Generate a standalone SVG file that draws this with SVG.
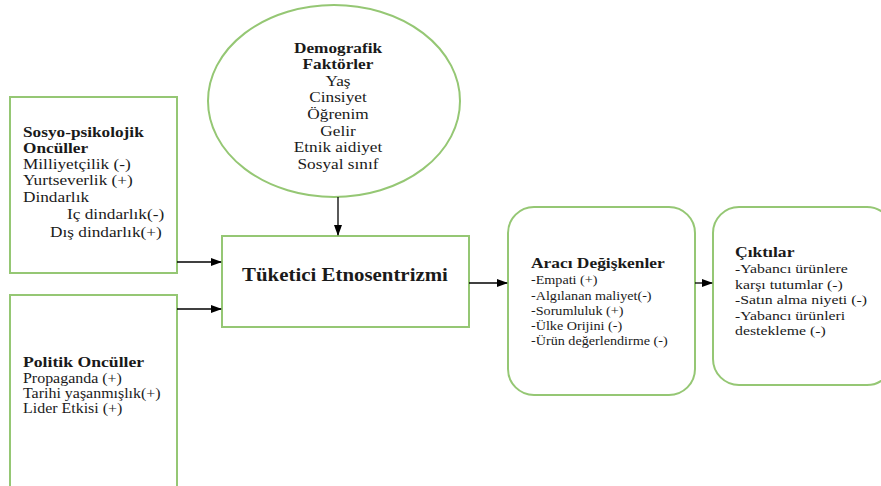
<svg xmlns="http://www.w3.org/2000/svg" width="881" height="486" viewBox="0 0 881 486">
<defs>
<style>
.box{fill:#fff;stroke:#95c774;stroke-width:2}
.b{font-weight:bold}
.edge{stroke:#000;stroke-width:1.3;fill:none;marker-end:url(#ah)}
</style>
<marker id="ah" markerWidth="11" markerHeight="8" refX="10" refY="4" orient="auto" markerUnits="userSpaceOnUse">
<path d="M0,0 L11,4 L0,8 Z" fill="#000"/>
</marker>
</defs>
<rect width="881" height="486" fill="#fff"/>
<g font-family="'Liberation Serif', 'Times New Roman', 'DejaVu Serif', serif" fill="#1a1a1a">
<g id="sosyo">
<rect class="box" x="10" y="97" width="167" height="176"/>
<text font-size="15" transform="translate(23 0) scale(1.15 1) translate(-23 0)"><tspan class="b" x="23" y="137">Sosyo-psikolojik</tspan><tspan class="b" x="23" y="153">Oncüller</tspan><tspan x="23" y="169">Milliyetçilik (-)</tspan><tspan x="23" y="185">Yurtseverlik (+)</tspan><tspan x="23" y="202">Dindarlık</tspan><tspan x="61.3" y="219">Iç dindarlık(-)</tspan><tspan x="46.5" y="237">Dış dindarlık(+)</tspan></text>
</g>
<g id="politik">
<rect class="box" x="10" y="295" width="167" height="200"/>
<text font-size="14" transform="translate(23 0) scale(1.14 1) translate(-23 0)"><tspan class="b" font-size="15.5" x="23" y="367">Politik Oncüller</tspan><tspan x="23" y="383">Propaganda (+)</tspan><tspan x="23" y="398">Tarihi yaşanmışlık(+)</tspan><tspan x="23" y="413">Lider Etkisi (+)</tspan></text>
</g>
<g id="demografik">
<ellipse class="box" cx="334" cy="101" rx="126" ry="96"/>
<text font-size="15" text-anchor="middle" transform="translate(338 0) scale(1.15 1) translate(-338 0)"><tspan class="b" x="338" y="53">Demografik</tspan><tspan class="b" x="338" y="69">Faktörler</tspan><tspan x="338" y="86">Yaş</tspan><tspan x="338" y="102">Cinsiyet</tspan><tspan x="338" y="119">Öğrenim</tspan><tspan x="338" y="136">Gelir</tspan><tspan x="338" y="152">Etnik aidiyet</tspan><tspan x="338" y="169">Sosyal sınıf</tspan></text>
</g>
<g id="tuketici">
<rect class="box" x="222" y="236" width="247" height="91"/>
<text class="b" font-size="18" text-anchor="middle" x="345" y="281" transform="translate(345 0) scale(1.16 1) translate(-345 0)">Tüketici Etnosentrizmi</text>
</g>
<g id="araci">
<rect class="box" x="508" y="207" width="187" height="188" rx="26" ry="26"/>
<text font-size="12.2" transform="translate(531 0) scale(1.16 1) translate(-531 0)"><tspan class="b" font-size="15" x="531" y="268">Aracı Değişkenler</tspan><tspan x="531" y="284">-Empati (+)</tspan><tspan x="531" y="300">-Algılanan maliyet(-)</tspan><tspan x="531" y="315">-Sorumluluk (+)</tspan><tspan x="531" y="330">-Ülke Orijini (-)</tspan><tspan x="531" y="345">-Ürün değerlendirme (-)</tspan></text>
</g>
<g id="ciktilar">
<rect class="box" x="713" y="207" width="180" height="178" rx="26" ry="26"/>
<text font-size="13.5" transform="translate(735 0) scale(1.17 1) translate(-735 0)"><tspan class="b" font-size="15" x="735" y="257">Çıktılar</tspan><tspan x="735" y="273">-Yabancı ürünlere</tspan><tspan x="735" y="289">karşı tutumlar (-)</tspan><tspan x="735" y="304">-Satın alma niyeti (-)</tspan><tspan x="735" y="320">-Yabancı ürünleri</tspan><tspan x="735" y="335">destekleme (-)</tspan></text>
</g>
</g>
<g id="connectors">
<line class="edge" x1="177" y1="262" x2="221" y2="262"/>
<line class="edge" x1="177" y1="309" x2="221" y2="309"/>
<line class="edge" x1="338" y1="197" x2="338" y2="235"/>
<line class="edge" x1="469" y1="283" x2="507" y2="283"/>
<line class="edge" x1="695" y1="283" x2="712" y2="283"/>
</g>
</svg>
